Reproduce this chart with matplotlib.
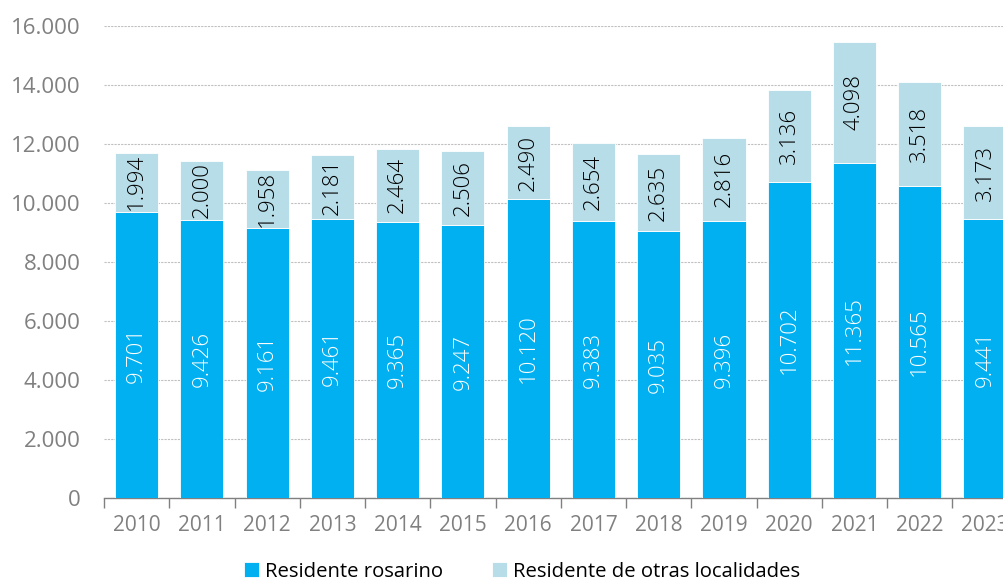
import matplotlib.pyplot as plt
from matplotlib.ticker import FuncFormatter, FixedLocator

plt.rcParams['font.family'] = ['Open Sans', 'DejaVu Sans']

anios = ['2010', '2011', '2012', '2013', '2014', '2015', '2016',
         '2017', '2018', '2019', '2020', '2021', '2022', '2023']
rosarino = [9701, 9426, 9161, 9461, 9365, 9247, 10120,
            9383, 9035, 9396, 10702, 11365, 10565, 9441]
otras = [1994, 2000, 1958, 2181, 2464, 2506, 2490,
         2654, 2635, 2816, 3136, 4098, 3518, 3173]

azul = '#00b0f0'
celeste = '#b7dde8'
gris = '#808080'


def miles(v):
    return f"{int(v):,}".replace(',', '.')


fig = plt.figure(figsize=(10.04, 5.85), dpi=100)
ax = fig.add_axes([0.1036, 0.1487, 0.910, 0.807])

x = list(range(len(anios)))
b1 = ax.bar(x, rosarino, width=0.66, color=azul, edgecolor='white', linewidth=0.6,
            label='Residente rosarino', zorder=3)
b2 = ax.bar(x, otras, width=0.66, bottom=rosarino, color=celeste, edgecolor='white',
            linewidth=0.6, label='Residente de otras localidades', zorder=3)

# etiquetas dentro de las barras
for i in x:
    ax.text(i, rosarino[i] / 2, miles(rosarino[i]), rotation=90, ha='center', va='center',
            fontsize=16, fontweight='light', color='white', zorder=4)
    ax.text(i, rosarino[i] + otras[i] / 2, miles(otras[i]), rotation=90, ha='center',
            va='center', fontsize=16, fontweight='light', color='black', zorder=4)

ax.set_xlim(-0.5, len(anios) - 0.5)
ax.set_ylim(0, 16000)
ax.set_yticks(range(0, 16001, 2000))
ax.yaxis.set_major_formatter(FuncFormatter(lambda v, p: miles(v)))
ax.grid(axis='y', color='#c0c0c0', linestyle=(0, (2, 1)), linewidth=0.8, zorder=0)

ax.set_xticks(x)
ax.set_xticklabels(anios)
ax.xaxis.set_minor_locator(FixedLocator([i - 0.5 for i in range(len(anios) + 1)]))
ax.tick_params(axis='x', which='major', length=0, pad=12, labelsize=15, labelcolor=gris)
ax.tick_params(axis='x', which='minor', length=7, color=gris, width=1)
ax.tick_params(axis='y', length=0, pad=17, labelsize=16, labelcolor=gris)

for s in ['top', 'right', 'left']:
    ax.spines[s].set_visible(False)
ax.spines['bottom'].set_color(gris)
ax.spines['bottom'].set_linewidth(1)

fig.legend(handles=[b1, b2], loc='lower center', bbox_to_anchor=(0.52, -0.026), ncol=2,
           frameon=False, fontsize=14.6, handlelength=0.75, handleheight=0.75,
           handletextpad=0.3, columnspacing=2.4)

fig.savefig('out.png', dpi=100)
